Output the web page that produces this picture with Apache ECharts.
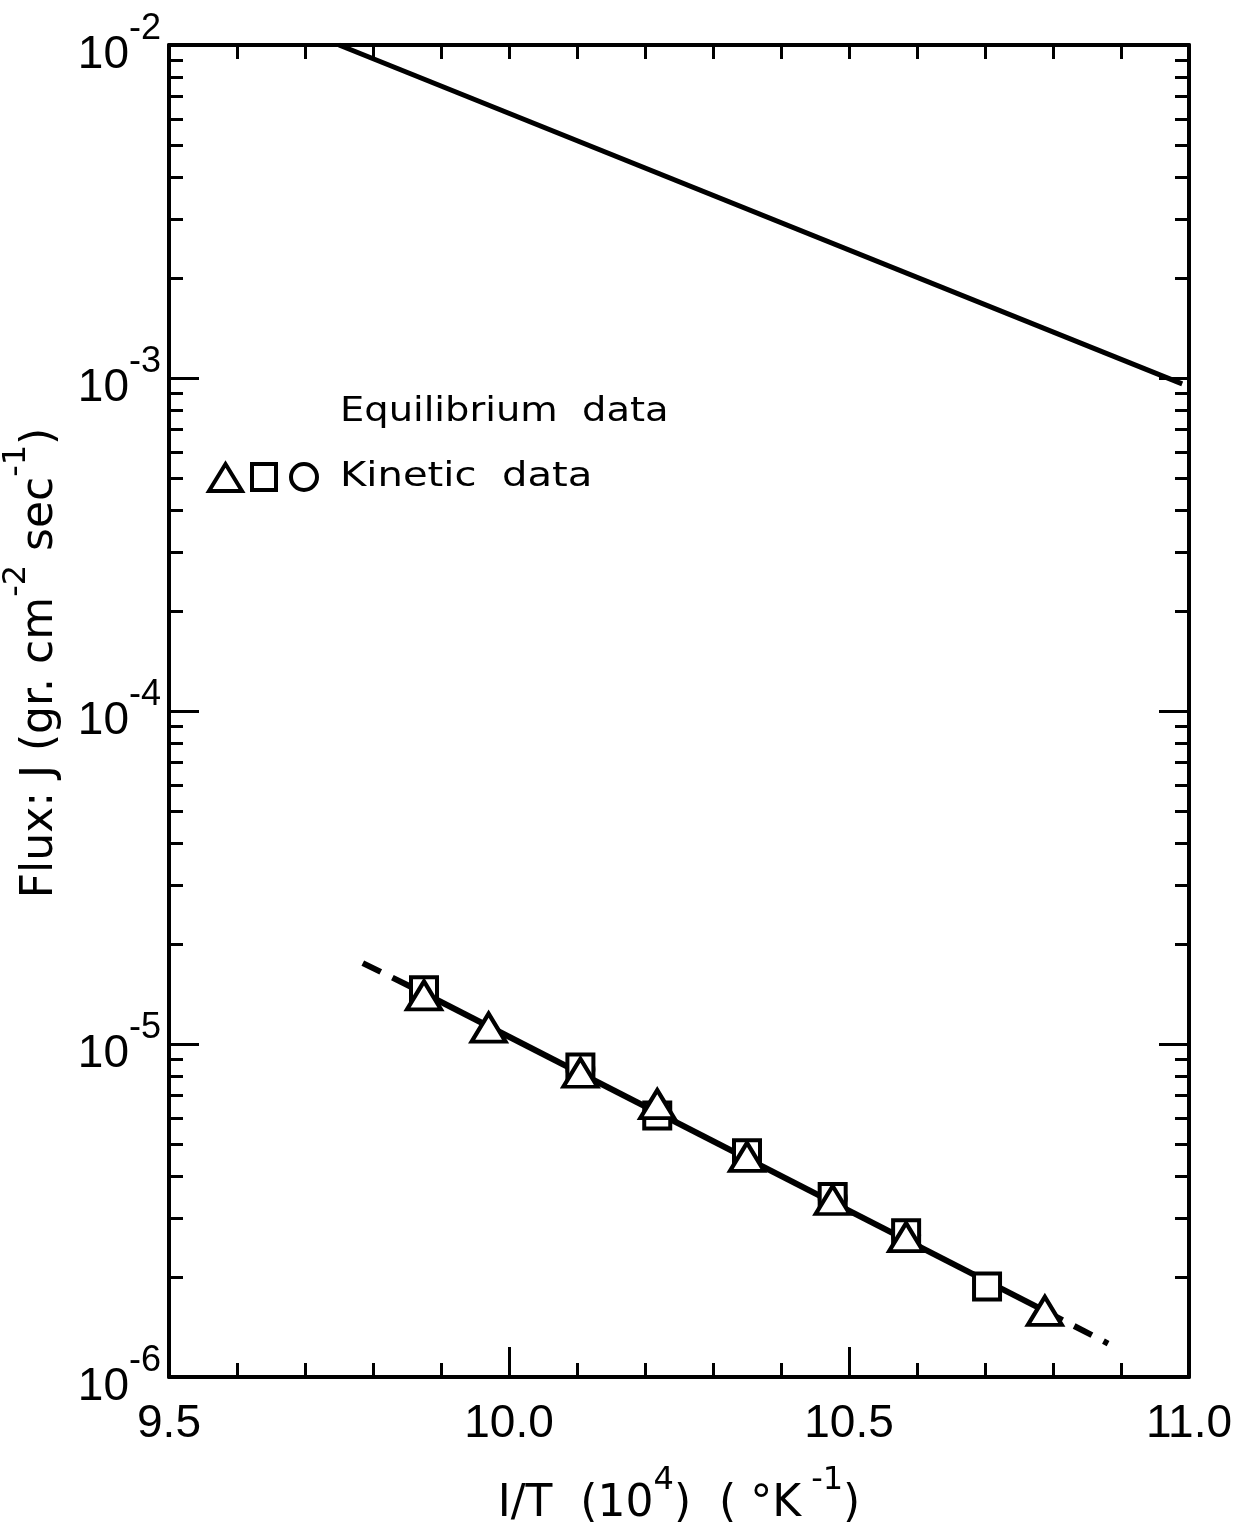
<!DOCTYPE html>
<html>
<head>
<meta charset="utf-8">
<script src="https://cdn.jsdelivr.net/npm/echarts@6/dist/echarts.min.js"></script>
<style>
html,body{margin:0;padding:0;background:#fff;}
#c{width:1240px;height:1529px;}
</style>
</head>
<body>
<div id="c"></div>
<script>
// ---- data ----
const xTickLabels = ['9.5', '10.0', '10.5', '11.0'];
const yDecades = [1e-6, 1e-5, 1e-4, 1e-3, 1e-2];
const yMinorTicks = [];
[1e-6, 1e-5, 1e-4, 1e-3].forEach(d => { for (let k = 2; k <= 9; k++) yMinorTicks.push(+(k * d).toPrecision(3)); });

const equilibriumLine = [[9.75, 1.0e-2], [10.99, 9.6e-4]];
const kineticFit = [[9.875, 1.42e-5], [10.788, 1.58e-6]];
const kineticDashLow = [[9.785, 1.75e-5], [9.875, 1.42e-5]];
const kineticDashHigh = [[10.788, 1.58e-6], [10.881, 1.26e-6]];

const squares = [[9.875, 1.45e-5], [10.105, 8.5e-6], [10.218, 6.1e-6], [10.35, 4.7e-6], [10.476, 3.47e-6], [10.584, 2.7e-6], [10.703, 1.87e-6]];
const circles = [[10.105, 8.4e-6], [10.35, 4.65e-6], [10.476, 3.44e-6], [10.584, 2.66e-6]];
const triangles = [[9.875, 1.40e-5], [9.97, 1.12e-5], [10.105, 8.2e-6], [10.218, 6.6e-6], [10.35, 4.58e-6], [10.476, 3.40e-6], [10.584, 2.63e-6], [10.788, 1.58e-6]];

const FONT = 'Liberation Sans';
const BLACK = '#000';

const chart = echarts.init(document.getElementById('c'), null, {renderer: 'canvas'});

const supRich = (big, small) => ({
  b: {fontSize: big, fontFamily: FONT, color: BLACK, lineHeight: Math.round(big * 1.45), verticalAlign: 'bottom'},
  s: {fontSize: small, fontFamily: FONT, color: BLACK, lineHeight: small, verticalAlign: 'top', padding: [0, 0, 0, 0]}
});

const markerStyle = {color: '#fff', borderColor: BLACK, borderWidth: 4, opacity: 1};

const option = {
  animation: false,
  backgroundColor: '#fff',
  grid: {left: 169, right: 51, top: 45, bottom: 152, containLabel: false, outerBoundsMode: 'none'},
  xAxis: [
    {
      type: 'value', min: 9.5, max: 11, interval: 0.5, position: 'bottom',
      axisLine: {show: true, onZero: false, lineStyle: {color: BLACK, width: 4}},
      axisTick: {show: true, inside: true, length: 30, lineStyle: {color: BLACK, width: 3}},
      minorTick: {show: true, splitNumber: 5, length: 14, lineStyle: {color: BLACK, width: 3}},
      splitLine: {show: false}, minorSplitLine: {show: false},
      axisLabel: {
        show: true, margin: 24, fontSize: 46, fontFamily: FONT, color: BLACK,
        formatter: v => { const i = Math.round((v - 9.5) / 0.5); return xTickLabels[i] !== undefined ? xTickLabels[i] : ''; }
      },
      name: '{n|I/T  (10}{s|4}{n|)  ( °K}{s| -1}{n|)}',
      nameLocation: 'middle', nameGap: 88,
      nameTextStyle: {
        rich: {
          n: {fontSize: 44, fontFamily: 'DejaVu Sans', color: BLACK, lineHeight: 62, verticalAlign: 'bottom'},
          s: {fontSize: 32, fontFamily: 'DejaVu Sans', color: BLACK, lineHeight: 32, verticalAlign: 'top'}
        }
      }
    },
    {
      type: 'value', min: 9.5, max: 11, interval: 0.5, position: 'top',
      axisLine: {show: true, onZero: false, lineStyle: {color: BLACK, width: 4}},
      axisTick: {show: true, inside: true, length: 14, lineStyle: {color: BLACK, width: 3}},
      minorTick: {show: true, splitNumber: 5, length: 14, lineStyle: {color: BLACK, width: 3}},
      splitLine: {show: false}, axisLabel: {show: false}
    }
  ],
  yAxis: [
    {
      type: 'log', logBase: 10, min: 1e-6, max: 1e-2, position: 'left',
      axisLine: {show: true, onZero: false, lineStyle: {color: BLACK, width: 4}},
      axisTick: {show: true, inside: true, length: 30, customValues: yDecades, lineStyle: {color: BLACK, width: 3}},
      splitLine: {show: false}, minorTick: {show: false},
      axisLabel: {
        show: true, margin: 8, customValues: yDecades,
        formatter: v => '{b|10}{s|' + Math.round(Math.log10(v)) + '}',
        rich: supRich(46, 36)
      },
      name: '{n|Flux: J (gr. cm}{s|-2}{n| sec}{s|-1}{n|)}',
      nameLocation: 'middle', nameRotate: 90, nameGap: 106,
      nameTextStyle: {
        padding: [0, 0, 0, 96],
        rich: {
          n: {fontSize: 44, fontFamily: 'DejaVu Sans', color: BLACK, lineHeight: 62, verticalAlign: 'bottom'},
          s: {fontSize: 32, fontFamily: 'DejaVu Sans', color: BLACK, lineHeight: 32, verticalAlign: 'top'}
        }
      }
    },
    {
      type: 'log', logBase: 10, min: 1e-6, max: 1e-2, position: 'left',
      axisLine: {show: false},
      axisTick: {show: true, inside: true, length: 14, customValues: yMinorTicks, lineStyle: {color: BLACK, width: 3}},
      splitLine: {show: false}, axisLabel: {show: false}
    },
    {
      type: 'log', logBase: 10, min: 1e-6, max: 1e-2, position: 'right',
      axisLine: {show: true, onZero: false, lineStyle: {color: BLACK, width: 4}},
      axisTick: {show: true, inside: true, length: 30, customValues: yDecades, lineStyle: {color: BLACK, width: 3}},
      splitLine: {show: false}, axisLabel: {show: false}
    },
    {
      type: 'log', logBase: 10, min: 1e-6, max: 1e-2, position: 'right',
      axisLine: {show: false},
      axisTick: {show: true, inside: true, length: 14, customValues: yMinorTicks, lineStyle: {color: BLACK, width: 3}},
      splitLine: {show: false}, axisLabel: {show: false}
    }
  ],
  graphic: [
    {type: 'text', x: 340, y: 412, scaleX: 1.13, style: {text: 'Equilibrium  data', font: '34px "DejaVu Sans"', fill: BLACK, verticalAlign: 'middle', align: 'left'}},
    {type: 'text', x: 340, y: 477, scaleX: 1.18, style: {text: 'Kinetic  data', font: '34px "DejaVu Sans"', fill: BLACK, verticalAlign: 'middle', align: 'left'}},
    {type: 'polygon', shape: {points: [[209, 491], [242, 491], [225.5, 464]]}, style: {fill: 'none', stroke: BLACK, lineWidth: 4}},
    {type: 'rect', shape: {x: 252, y: 464, width: 24, height: 26}, style: {fill: 'none', stroke: BLACK, lineWidth: 4}},
    {type: 'circle', shape: {cx: 304, cy: 477, r: 13}, style: {fill: 'none', stroke: BLACK, lineWidth: 4}}
  ],
  series: [
    {type: 'line', data: equilibriumLine, showSymbol: false, symbol: 'none', lineStyle: {color: BLACK, width: 5}, z: 3},
    {type: 'line', data: kineticFit, showSymbol: false, symbol: 'none', lineStyle: {color: BLACK, width: 6}, z: 3},
    {type: 'line', data: kineticDashLow, showSymbol: false, symbol: 'none', lineStyle: {color: BLACK, width: 6, type: [20, 13]}, z: 3},
    {type: 'line', data: kineticDashHigh, showSymbol: false, symbol: 'none', lineStyle: {color: BLACK, width: 6, type: [20, 13]}, z: 3},
    {type: 'scatter', data: circles, symbol: 'circle', symbolSize: 26, itemStyle: markerStyle, z: 4},
    {type: 'scatter', data: squares, symbol: 'rect', symbolSize: 26, itemStyle: markerStyle, z: 5},
    {type: 'scatter', data: triangles, symbol: 'triangle', symbolSize: [34, 28], itemStyle: markerStyle, z: 6}
  ]
};
chart.setOption(option);
</script>
</body>
</html>
